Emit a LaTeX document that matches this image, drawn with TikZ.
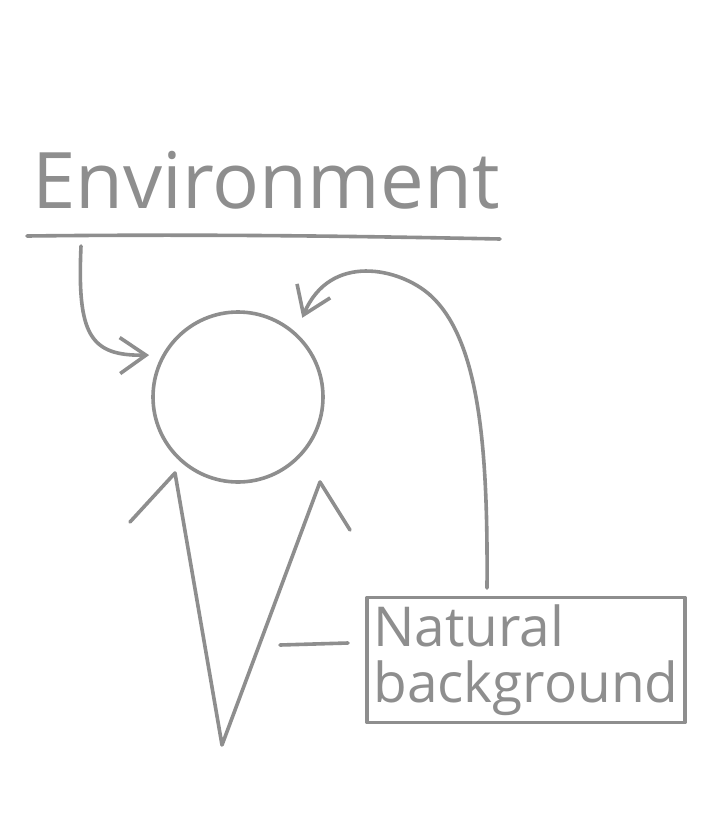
\documentclass[tikz,border=0pt]{standalone}
\usepackage{fontspec}
\setmainfont{Open Sans}
\usepackage{xcolor}
\usetikzlibrary{arrows.meta,positioning,calc}
\definecolor{pencil}{HTML}{8E8E8E}

\begin{document}
\begin{tikzpicture}[x=1pt, y=-1pt,
  pen/.style={draw=pencil, line width=3.6pt, line cap=round, line join=round},
  arr/.style={pen, -{Straight Barb[length=26pt, width=36pt, line width=3.6pt]}},
  lbl/.style={text=pencil, inner sep=0pt}]
\useasboundingbox[fill=white] (0,0) rectangle (722,833);
% title and its underline
\node[lbl, anchor=base, font=\fontsize{78}{78}\selectfont] (env) at (266,208) {Environment};
\draw[pen] (27,236) .. controls (200,234) and (350,236) .. (500,239);
% the head and the cone
\node[pen, circle, minimum size=170pt] (head) at (238,397) {};
\coordinate (tip) at (222,745);
\coordinate (lt) at (175,473);
\coordinate (rt) at (320,482);
\draw[pen] (lt) -- (tip) -- (rt);
\draw[pen] (lt) -- ++(-45,49);
\draw[pen] (rt) -- ++(30,48);
% box
\node[pen, lbl, align=left, minimum width=318pt, minimum height=125pt,
  font=\fontsize{55}{56}\selectfont] (nat) at (526,660) {Natural\\background};
\coordinate (dash) at (348,643);
\draw[pen] (dash) -- ++(-68,2);
% arrows
\coordinate (envfoot) at (81,246);
\draw[arr, shorten >=13pt] (envfoot) .. controls (77,335) and (90,356) .. (head.151);
\coordinate (natfoot) at (487,588);
\draw[pen] (natfoot) .. controls (488,450) and (480,340) .. (430,295) coordinate (bend);
\draw[arr, shorten >=16pt] (bend) .. controls (400,268) and (330,252) .. (head.48);
\end{tikzpicture}
\end{document}
